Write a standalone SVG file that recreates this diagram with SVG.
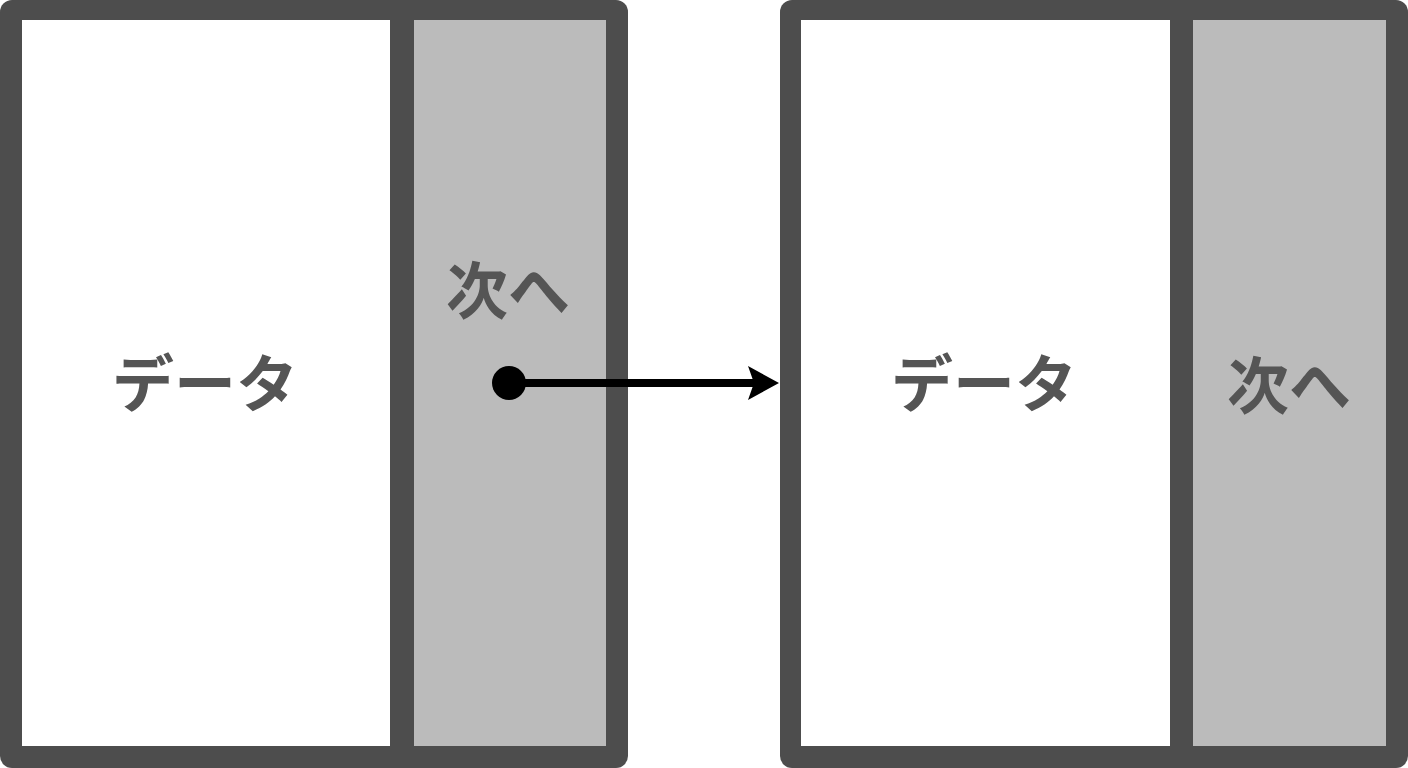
<svg xmlns="http://www.w3.org/2000/svg" width="1408" height="768" viewBox="0 0 1408 768">
<defs>
<style>
.outer{fill:#4d4d4d}
.data{fill:#ffffff}
.next{fill:#bbbbbb}
.lbl{font-family:"Noto Sans CJK JP","Noto Sans",sans-serif;font-weight:bold;font-size:62px;fill:#555555;text-anchor:middle;dominant-baseline:central}
</style>
<marker id="ah" markerWidth="32" markerHeight="34" refX="7" refY="17" orient="auto" markerUnits="userSpaceOnUse">
<path d="M0,0 L31,17 L0,34 L6,17 Z" fill="#000"/>
</marker>
</defs>
<rect width="1408" height="768" fill="#ffffff"/>
<g id="node1">
<rect class="outer" x="0" y="0" width="628" height="768" rx="12"/>
<rect class="data" x="22" y="20" width="368" height="726"/>
<rect class="next" x="414" y="20" width="192" height="726"/>
<text class="lbl" x="205" y="380">データ</text>
<text class="lbl" x="508" y="287">次へ</text>
</g>
<g id="node2">
<rect class="outer" x="780" y="0" width="628" height="768" rx="12"/>
<rect class="data" x="801" y="20" width="369" height="726"/>
<rect class="next" x="1193" y="20" width="193" height="726"/>
<text class="lbl" x="984" y="380">データ</text>
<text class="lbl" x="1289" y="382">次へ</text>
</g>
<g id="connectors">
<circle cx="509" cy="383" r="17" fill="#000"/>
<line x1="509" y1="383" x2="755" y2="383" stroke="#000" stroke-width="8" marker-end="url(#ah)"/>
</g>
</svg>
